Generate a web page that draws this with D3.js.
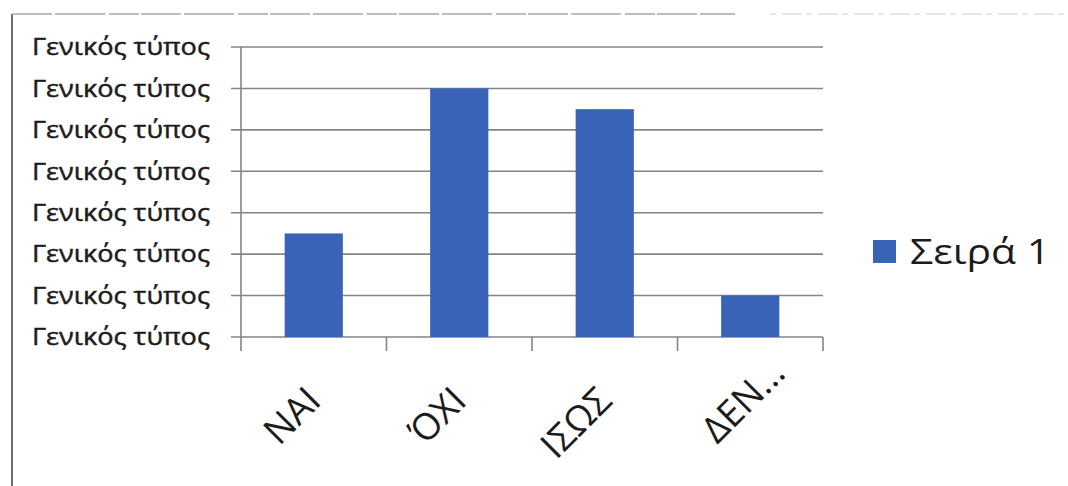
<!DOCTYPE html>
<html><head><meta charset="utf-8">
<script src="https://cdn.jsdelivr.net/npm/d3@7"></script>
<style>body{margin:0;background:#fff}svg{display:block}</style>
</head><body>
<svg id="c" width="1068" height="486"></svg>
<script>
const categories = ["ΝΑΙ", "ΌΧΙ", "ΙΣΩΣ", "ΔΕΝ..."];
const values = [2.5, 6, 5.5, 1];
const tickValues = [0, 1, 2, 3, 4, 5, 6, 7];
const tickLabels = ["Γενικός τύπος","Γενικός τύπος","Γενικός τύπος","Γενικός τύπος","Γενικός τύπος","Γενικός τύπος","Γενικός τύπος","Γενικός τύπος"];
const seriesName = "Σειρά 1";

(function(){
const svg = d3.select("#c");
const pLeft = 241, pRight = 823, pTop = 47, pBottom = 337;
const font = "'Open Sans', 'Noto Sans', sans-serif";
const gridColor = "#858585";
const barColor = "#3863b6";
const textColor = "#1c1c1c";

// frame lines
svg.append("line").attr("x1", 12).attr("x2", 12).attr("y1", 14).attr("y2", 486)
  .attr("stroke", "#6e6e6e").attr("stroke-width", 2);
svg.append("line").attr("x1", 12).attr("x2", 735).attr("y1", 14).attr("y2", 14)
  .attr("stroke", "#a8a8a8").attr("stroke-width", 1.5).attr("stroke-dasharray", "40 3 50 4 30 2");
svg.append("line").attr("x1", 770).attr("x2", 1068).attr("y1", 14).attr("y2", 14)
  .attr("stroke", "#cfcfcf").attr("stroke-width", 1.2).attr("stroke-dasharray", "6 6 20 4");

const x = d3.scaleBand().domain(categories).range([pLeft, pRight]).paddingInner(0.6).paddingOuter(0.3);
const y = d3.scaleLinear().domain([0, 7]).range([pBottom, pTop]);

// grid
svg.append("g").selectAll("line").data(tickValues).join("line")
  .attr("x1", pLeft - 10).attr("x2", pRight)
  .attr("y1", d => y(d)).attr("y2", d => y(d))
  .attr("stroke", gridColor).attr("stroke-width", 1.6);

// y axis line
svg.append("line").attr("x1", pLeft).attr("x2", pLeft).attr("y1", pTop).attr("y2", pBottom)
  .attr("stroke", gridColor).attr("stroke-width", 1.6);

// y labels
svg.append("g").selectAll("text").data(tickValues).join("text")
  .attr("x", 210).attr("y", d => y(d)).attr("dy", "0.36em")
  .attr("text-anchor", "end")
  .attr("textLength", 178).attr("lengthAdjust", "spacingAndGlyphs")
  .style("font-family", font).style("font-size", "23px")
  .attr("fill", textColor).attr("stroke", textColor).attr("stroke-width", 0.45)
  .text((d, i) => tickLabels[i]);

// bars
svg.append("g").selectAll("rect").data(values).join("rect")
  .attr("x", (d, i) => x(categories[i]))
  .attr("width", x.bandwidth())
  .attr("y", d => y(d))
  .attr("height", d => pBottom - y(d))
  .attr("fill", barColor);

// x axis ticks
const bounds = d3.range(categories.length + 1).map(i => pLeft + i * (pRight - pLeft) / categories.length);
svg.append("g").selectAll("line").data(bounds).join("line")
  .attr("x1", d => d).attr("x2", d => d).attr("y1", pBottom).attr("y2", pBottom + 14)
  .attr("stroke", gridColor).attr("stroke-width", 1.6);

// x labels (truncated labels are pushed further along their baseline)
svg.append("g").selectAll("text").data(categories).join("text")
  .attr("transform", d => {
    const shift = d.endsWith("...") ? 28 : 0;
    return `translate(${x(d) + x.bandwidth()/2 + 9 + shift},${pBottom + 66 - shift}) rotate(-45)`;
  })
  .attr("text-anchor", "end")
  .style("font-family", font).style("font-size", "37px").attr("fill", textColor)
  .text(d => d);

// legend
svg.append("rect").attr("x", 873).attr("y", 240).attr("width", 23).attr("height", 23).attr("fill", barColor);
svg.append("text").attr("x", 910).attr("y", 264)
  .attr("textLength", 140).attr("lengthAdjust", "spacingAndGlyphs")
  .style("font-family", font).style("font-size", "35px").attr("fill", textColor)
  .text(seriesName);
})();
</script>
</body></html>
